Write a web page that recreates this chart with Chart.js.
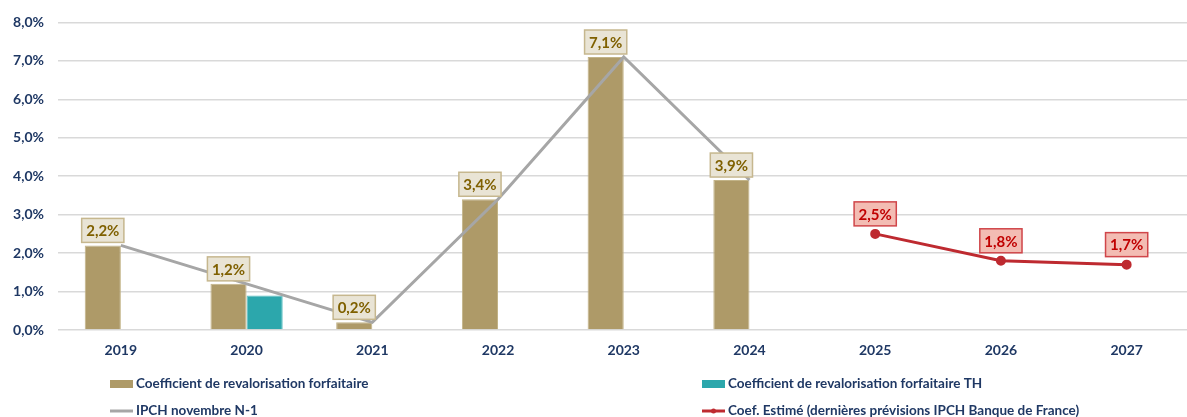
<!DOCTYPE html>
<html>
<head>
<meta charset="utf-8">
<script src="https://cdn.jsdelivr.net/npm/chart.js@4"></script>
<style>
  html, body { margin: 0; padding: 0; background: #fff; overflow: hidden; }
  #clip { width: 1187px; height: 417px; overflow: hidden; position: relative; }
  #revalChart { display: block; }
</style>
</head>
<body>
<div id="clip"><canvas id="revalChart" width="1196" height="417"></canvas></div>
<script>
const years = ['2019', '2020', '2021', '2022', '2023', '2024', '2025', '2026', '2027'];
const coefForfaitaire = [2.2, 1.2, 0.2, 3.4, 7.1, 3.9, null, null, null];
const coefForfaitaireTH = [null, 0.9, null, null, null, null, null, null, null];
const ipchNovembre = [2.2, 1.2, 0.2, 3.4, 7.1, 3.9, null, null, null];
const coefEstime = [null, null, null, null, null, null, 2.5, 1.8, 1.7];
const yTicks = [0, 1, 2, 3, 4, 5, 6, 7, 8];

const navy = '#1F3864';
const fontFamily = 'Lato, "Open Sans", sans-serif';

function pct(v) {
        return v.toFixed(1).replace('.', ',') + '%';
}

// value boxes above the tan bars and the red points
const valueLabels = {
        id: 'valueLabels',
        afterDatasetsDraw: function(chart) {
                var ctx = chart.ctx;
                var sets = [
                        { index: 0, fill: '#E9E4D5', stroke: '#C6B78E', color: '#7F6000', gap: 3 },
                        { index: 3, fill: '#F3BCB3', stroke: '#D0464A', color: '#C00000', gap: 8 }
                ];
                ctx.save();
                ctx.font = 'bold 15px ' + fontFamily;
                ctx.textAlign = 'center';
                ctx.textBaseline = 'middle';
                sets.forEach(function(s) {
                        var meta = chart.getDatasetMeta(s.index);
                        var values = chart.data.datasets[s.index].data;
                        meta.data.forEach(function(el, j) {
                                if (values[j] == null) return;
                                var text = pct(values[j]);
                                var w = ctx.measureText(text).width + 9;
                                var h = 24;
                                var x = el.x - w / 2;
                                var y = el.y - s.gap - h;
                                ctx.fillStyle = s.fill;
                                ctx.fillRect(x, y, w, h);
                                ctx.strokeStyle = s.stroke;
                                ctx.lineWidth = 1.5;
                                ctx.strokeRect(x, y, w, h);
                                ctx.fillStyle = s.color;
                                ctx.fillText(text, el.x, y + h / 2 + 1);
                        });
                });
                ctx.restore();
        }
};

// two-column legend under the axis
const gridLegend = {
        id: 'gridLegend',
        afterDraw: function(chart) {
                var ctx = chart.ctx;
                var ds = chart.data.datasets;
                var cols = [110, 702];
                var rows = [384, 411];
                var order = [0, 1, 2, 3];
                ctx.save();
                ctx.font = 'bold 13.5px ' + fontFamily;
                ctx.textBaseline = 'middle';
                order.forEach(function(di, k) {
                        var x = cols[k % 2];
                        var y = rows[Math.floor(k / 2)];
                        var d = ds[di];
                        if (d.type === 'line') {
                                ctx.strokeStyle = d.borderColor;
                                ctx.lineWidth = 3;
                                ctx.beginPath();
                                ctx.moveTo(x, y);
                                ctx.lineTo(x + 23, y);
                                ctx.stroke();
                                if (d.pointRadius > 0) {
                                        ctx.fillStyle = d.borderColor;
                                        ctx.beginPath();
                                        ctx.arc(x + 11.5, y, 2.5, 0, Math.PI * 2);
                                        ctx.fill();
                                }
                        } else {
                                ctx.fillStyle = d.backgroundColor;
                                ctx.fillRect(x, y - 4, 23, 8);
                        }
                        ctx.fillStyle = navy;
                        ctx.fillText(d.label, x + 26, y);
                });
                ctx.restore();
        }
};

var ctx = document.getElementById('revalChart').getContext('2d');

var chart = new Chart(ctx, {
        type: 'bar',
        data: {
                labels: years,
                datasets: [{
                        label: 'Coefficient de revalorisation forfaitaire',
                        data: coefForfaitaire,
                        backgroundColor: '#AE9A68',
                        borderColor: '#C2B387',
                        borderWidth: 1,
                        order: 3
                }, {
                        label: 'Coefficient de revalorisation forfaitaire TH',
                        data: coefForfaitaireTH,
                        backgroundColor: '#2CA7AC',
                        borderColor: '#5CBFC3',
                        borderWidth: 1,
                        order: 3
                }, {
                        type: 'line',
                        label: 'IPCH novembre N-1',
                        data: ipchNovembre,
                        borderColor: '#A6A6A6',
                        backgroundColor: '#A6A6A6',
                        borderWidth: 3,
                        pointRadius: 0,
                        tension: 0,
                        order: 1
                }, {
                        type: 'line',
                        label: 'Coef. Estimé (dernières prévisions IPCH Banque de France)',
                        data: coefEstime,
                        borderColor: '#BE2A30',
                        backgroundColor: '#BE2A30',
                        borderWidth: 3,
                        pointRadius: 3.5,
                        pointHoverRadius: 3.5,
                        tension: 0,
                        order: 0
                }]
        },
        options: {
                responsive: false,
                animation: false,
                layout: {
                        padding: { top: 22, right: 0, bottom: 0, left: 0 }
                },
                datasets: {
                        bar: {
                                categoryPercentage: 0.575,
                                barPercentage: 1
                        }
                },
                plugins: {
                        legend: { display: false },
                        tooltip: { enabled: false }
                },
                scales: {
                        x: {
                                grid: { display: false, drawTicks: false },
                                border: { display: false },
                                ticks: {
                                        color: navy,
                                        padding: 12,
                                        font: { family: fontFamily, size: 14, weight: 'bold' }
                                },
                                afterFit: function(scale) { scale.height = 87; }
                        },
                        y: {
                                min: 0,
                                max: 8,
                                afterBuildTicks: function(scale) {
                                        scale.ticks = yTicks.map(function(v) { return { value: v }; });
                                },
                                grid: {
                                        color: '#D9D9D9',
                                        lineWidth: 1.5,
                                        drawTicks: false
                                },
                                border: { display: false },
                                ticks: {
                                        color: navy,
                                        padding: 14,
                                        font: { family: fontFamily, size: 14, weight: 'bold' },
                                        callback: function(v) { return pct(v); }
                                },
                                afterFit: function(scale) { scale.width = 58; }
                        }
                }
        },
        plugins: [valueLabels, gridLegend]
});
</script>
</body>
</html>
